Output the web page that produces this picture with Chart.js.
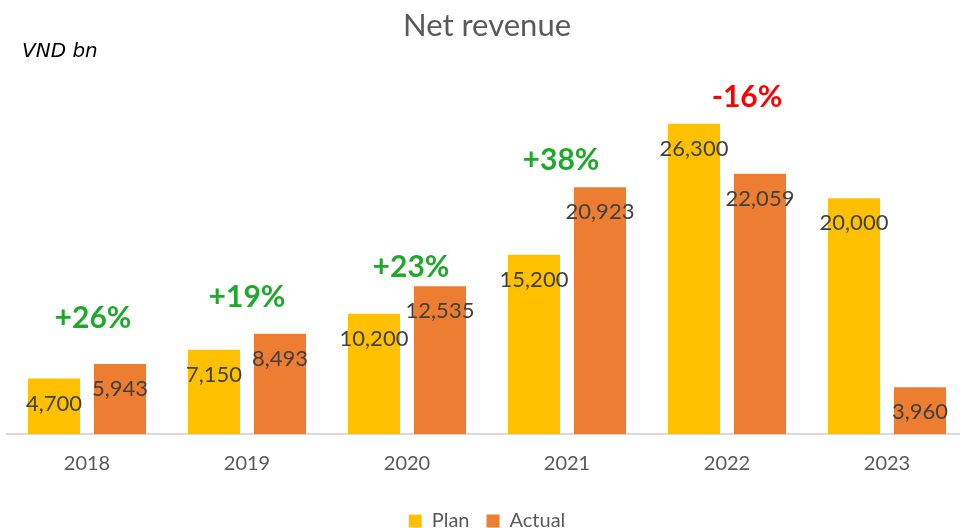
<!DOCTYPE html>
<html>
<head>
<meta charset="utf-8">
<script src="https://cdn.jsdelivr.net/npm/chart.js@4/dist/chart.umd.min.js"></script>
<style>
  html, body { margin: 0; padding: 0; background: #fff; overflow: hidden; }
  #wrap { position: relative; width: 967px; height: 547px; }
</style>
</head>
<body>
<div id="wrap"><canvas id="revenueChart"></canvas></div>
<script>
// values (VND bn)
const years = ["2018", "2019", "2020", "2021", "2022", "2023"];
const planValues = [4700, 7150, 10200, 15200, 26300, 20000];
const actualValues = [5943, 8493, 12535, 20923, 22059, 3960];
const growthLabels = ["+26%", "+19%", "+23%", "+38%", "-16%"];

const PLAN_COLOR = "#FFC000";
const ACTUAL_COLOR = "#ED7D31";
const FONT = "Lato, 'Open Sans', sans-serif";

const fmt = (v) => v.toLocaleString("en-US");

// value labels inside the top of every bar + growth annotations + unit note
const labelsPlugin = {
  id: "revenueLabels",
  afterDatasetsDraw(chart, args, opts) {
    const ctx = chart.ctx;
    ctx.save();
    ctx.textAlign = "center";
    ctx.textBaseline = "middle";
    ctx.font = "22px " + FONT;
    ctx.fillStyle = "#404040";
    chart.data.datasets.forEach((ds, di) => {
      chart.getDatasetMeta(di).data.forEach((bar, i) => {
        ctx.fillText(fmt(ds.data[i]), bar.x, bar.y + 25);
      });
    });

    // growth (actual vs plan)
    const yScale = chart.scales.y;
    const xScale = chart.scales.x;
    ctx.font = "bold 30px " + FONT;
    growthLabels.forEach((txt, i) => {
      const top = Math.max(planValues[i], actualValues[i]);
      const y = yScale.getPixelForValue(top) - opts.lift[i];
      const x = xScale.getPixelForValue(i) + opts.shift[i];
      ctx.fillStyle = txt.startsWith("-") ? "#FF0000" : "#1FA82B";
      ctx.fillText(txt, x, y);
    });

    // unit note
    ctx.textAlign = "left";
    ctx.font = "oblique 20px 'DejaVu Sans', sans-serif";
    ctx.fillStyle = "#000";
    ctx.fillText("VND bn", 22, 52);
    ctx.restore();
  },
};

new Chart(document.getElementById("revenueChart"), {
  type: "bar",
  data: {
    labels: years,
    datasets: [
      {
        label: "Plan",
        data: planValues,
        backgroundColor: PLAN_COLOR,
        categoryPercentage: 0.825,
        barPercentage: 0.79,
      },
      {
        label: "Actual",
        data: actualValues,
        backgroundColor: ACTUAL_COLOR,
        categoryPercentage: 0.825,
        barPercentage: 0.79,
      },
    ],
  },
  options: {
    responsive: true,
    maintainAspectRatio: false,
    animation: false,
    layout: { padding: { left: 7, right: 0, top: 0, bottom: 6 } },
    scales: {
      x: {
        grid: { display: false, drawTicks: false },
        border: { display: true, color: "#D9D9D9", width: 2 },
        ticks: { color: "#595959", font: { family: FONT, size: 20 }, padding: 18 },
      },
      y: { display: false, min: 0, max: 30000 },
    },
    plugins: {
      title: {
        display: true,
        text: "Net revenue",
        color: "#595959",
        font: { family: FONT, size: 31, weight: "normal" },
        padding: { top: 7, bottom: 36 },
      },
      legend: {
        position: "bottom",
        labels: {
          color: "#595959",
          font: { family: FONT, size: 20 },
          boxWidth: 13,
          boxHeight: 13,
          padding: 17,
        },
      },
      tooltip: { enabled: false },
      revenueLabels: {
        lift: [46, 37, 19, 27, 27],
        shift: [6, 0, 4, -6, 20],
      },
    },
  },
  plugins: [labelsPlugin],
});
</script>
</body>
</html>
